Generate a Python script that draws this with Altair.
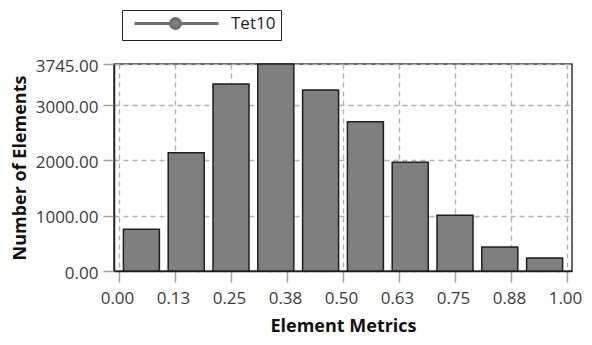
import altair as alt
import pandas as pd

# Histogram bins (element metric ranges) and counts
bin_lo = [0.0, 0.1, 0.2, 0.3, 0.4, 0.5, 0.6, 0.7, 0.8, 0.9]
bin_hi = [0.1, 0.2, 0.3, 0.4, 0.5, 0.6, 0.7, 0.8, 0.9, 1.0]
counts = [754, 2140, 3383, 3745, 3274, 2701, 1966, 1007, 434, 235]
series = ["Tet10"] * 10

x_ticks = [0.0, 0.125, 0.25, 0.375, 0.5, 0.625, 0.75, 0.875, 1.0]
y_ticks = [0, 1000, 2000, 3000, 3745]

df = pd.DataFrame({"lo": bin_lo, "hi": bin_hi, "count": counts, "series": series})

FONT = "Open Sans"

legend_symbol = "M-1,0L35,0M45,0L83,0M45,0A5,5,0,1,1,35,0A5,5,0,1,1,45,0Z"

chart = (
    alt.Chart(df)
    .transform_calculate(mid="(datum.lo + datum.hi) / 2")
    .mark_bar(size=36, stroke="#1e1e1e", strokeWidth=1.5)
    .encode(
        x=alt.X(
            "mid:Q",
            scale=alt.Scale(domain=[0, 1], nice=False, zero=False),
            axis=alt.Axis(
                values=x_ticks,
                format=".2f",
                title="Element Metrics",
                titleY=60,
                titleBaseline="alphabetic",
                labelOffset=-2,
                labelPadding=8,
                tickSize=11,
            ),
        ),
        y=alt.Y(
            "count:Q",
            scale=alt.Scale(domain=[0, 3745], nice=False),
            axis=alt.Axis(
                values=y_ticks,
                format=".2f",
                title="Number of Elements",
                titleX=-89,
                titleY=103.5,
                titleAngle=270,
                titleBaseline="alphabetic",
                labelOffset=2,
                labelPadding=5,
                tickSize=11,
            ),
        ),
        color=alt.Color(
            "series:N",
            scale=alt.Scale(range=["#7f7f7f"]),
            legend=alt.Legend(
                title=None,
                orient="none",
                legendX=8,
                legendY=-54,
                padding=5,
                strokeColor="#222222",
                fillColor="white",
                symbolType=legend_symbol,
                symbolSize=4,
                symbolStrokeColor="#6e6e6e",
                symbolStrokeWidth=3,
                symbolFillColor="#7f7f7f",
                labelOffset=87,
                labelFontSize=17,
                labelFont=FONT,
                labelColor="#222222",
            ),
        ),
    )
    .properties(
        width=458,
        height=207,
        autosize=alt.AutoSizeParams(type="none"),
        padding={"left": 106, "top": 56, "right": 10, "bottom": 66},
    )
    .configure_view(stroke="#333333", strokeWidth=1.5)
    .configure_axis(
        labelFont=FONT,
        labelFontSize=17,
        labelColor="#3a3a3a",
        titleFont=FONT,
        titleFontSize=18,
        titleFontWeight="bold",
        titleColor="#111111",
        tickColor="#a0a0a0",
        tickWidth=1.5,
        domainColor="#222222",
        domainWidth=1.5,
        gridColor="#b0b0b0",
        gridDash=[5, 4],
        gridWidth=1.4,
    )
)

chart.save("out.html", embed_options={"renderer": "svg", "actions": False})
